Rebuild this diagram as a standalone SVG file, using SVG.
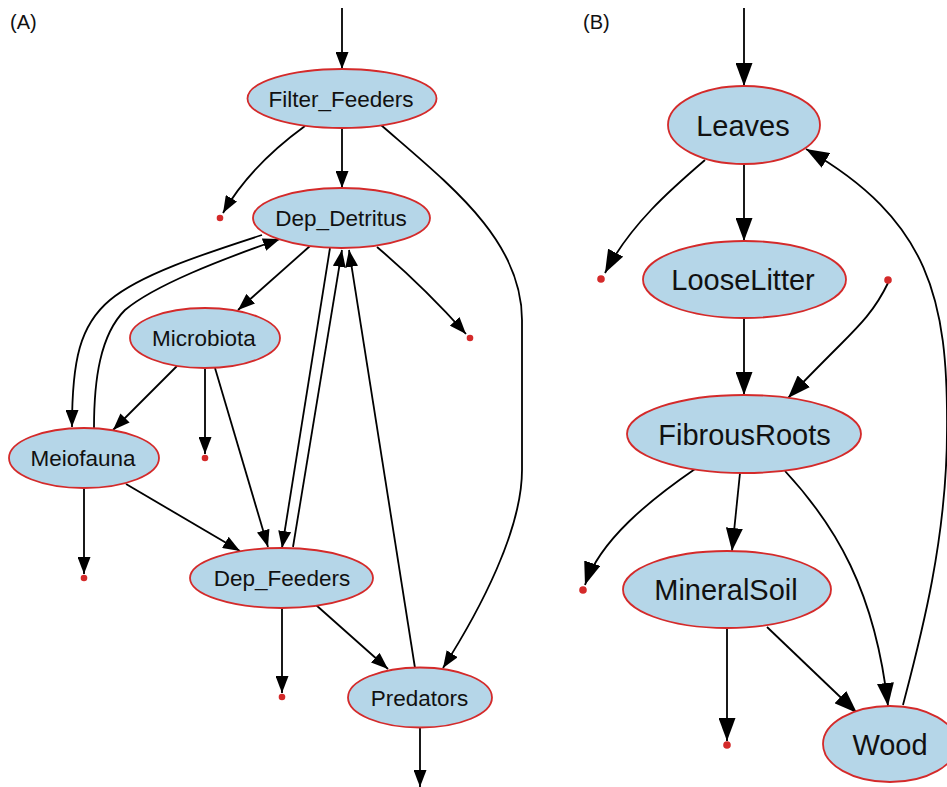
<svg xmlns="http://www.w3.org/2000/svg" width="947" height="787" viewBox="0 0 947 787">
<style>
.node ellipse{fill:#b5d6e8;stroke:#d42a2a;stroke-width:1.8}
.node text{font-family:"Liberation Sans",Arial,sans-serif;fill:#111;text-anchor:middle}
.a text{font-size:22.5px}
.b text{font-size:29px}
.edges path{fill:none;stroke:#000;stroke-width:1.8}
.ea path{marker-end:url(#arrA)}
.eb path{marker-end:url(#arrB)}
.sink{fill:#d42a2a}
.lbl{font-family:"Liberation Sans",Arial,sans-serif;font-size:20px;fill:#111}
</style>
<defs>
<marker id="arrA" markerUnits="userSpaceOnUse" markerWidth="17" markerHeight="13" refX="17" refY="6.5" orient="auto" viewBox="0 0 17 13">
<path d="M0,0 L17,6.5 L0,13 z" fill="#000"/>
</marker>
<marker id="arrB" markerUnits="userSpaceOnUse" markerWidth="23" markerHeight="17" refX="23" refY="8.5" orient="auto" viewBox="0 0 23 17">
<path d="M0,0 L23,8.5 L0,17 z" fill="#000"/>
</marker>
</defs>
<rect width="947" height="787" fill="#fff"/>
<text class="lbl" x="10" y="29">(A)</text>
<text class="lbl" x="583" y="29">(B)</text>

<g id="connectors" class="edges">
<g class="ea">
<path d="M342,8 L342,69"/>
<path d="M342,128 L342,188"/>
<path d="M305,126 C272,150 242,180 223,213"/>
<path d="M381,125 C450,185 522,240 522,320 L522,470 C522,530 480,610 443,668"/>
<path d="M377,247 C410,275 440,305 466,334"/>
<path d="M310,246 L238,310"/>
<path d="M262,235 C200,255 140,275 110,300 C80,325 72,360 72,427"/>
<path d="M94,428 C94,380 100,335 125,310 C155,285 220,260 280,239"/>
<path d="M330,248 L282,548"/>
<path d="M293,547 L342,250"/>
<path d="M415,668 L349,250"/>
<path d="M177,366 L113,430"/>
<path d="M205,368 L205,454"/>
<path d="M215,368 L268,547"/>
<path d="M126,484 L240,551"/>
<path d="M84,488 L84,574"/>
<path d="M282,608 L282,693"/>
<path d="M316,605 L388,669"/>
<path d="M420,727 L420,787"/>
</g>
<g class="eb">
<path d="M744,8 L744,86"/>
<path d="M744,164 L744,241"/>
<path d="M705,160 C670,190 630,225 605,273"/>
<path d="M888,283 C875,310 860,325 840,345 C820,365 805,380 788,398"/>
<path d="M744,318 L744,395"/>
<path d="M695,469 C650,500 600,540 585,585"/>
<path d="M740,473 L732,551"/>
<path d="M785,471 C835,525 875,590 888,706"/>
<path d="M727,628 L727,741"/>
<path d="M767,627 L857,713"/>
<path d="M903,705 C920,640 947,540 947,430 C948,300 930,220 806,149"/>
</g>
</g>

<g id="sinks">
<circle class="sink" cx="220" cy="218" r="3.3"/>
<circle class="sink" cx="470" cy="338" r="3.3"/>
<circle class="sink" cx="205" cy="458" r="3.3"/>
<circle class="sink" cx="84" cy="578" r="3.3"/>
<circle class="sink" cx="282" cy="697" r="3.3"/>
<circle class="sink" cx="601" cy="279" r="3.8"/>
<circle class="sink" cx="888" cy="280" r="3.8"/>
<circle class="sink" cx="583" cy="590" r="3.8"/>
<circle class="sink" cx="727" cy="745" r="3.8"/>
</g>

<g id="Filter_Feeders" class="node a"><ellipse cx="342" cy="98.5" rx="94.5" ry="29.5"/><text x="341" y="106.5">Filter_Feeders</text></g>
<g id="Dep_Detritus" class="node a"><ellipse cx="341.5" cy="218" rx="88.5" ry="30"/><text x="341" y="226">Dep_Detritus</text></g>
<g id="Microbiota" class="node a"><ellipse cx="205" cy="338" rx="75" ry="30"/><text x="204" y="346">Microbiota</text></g>
<g id="Meiofauna" class="node a"><ellipse cx="84" cy="458" rx="75" ry="30"/><text x="83" y="466">Meiofauna</text></g>
<g id="Dep_Feeders" class="node a"><ellipse cx="281.5" cy="578" rx="91.5" ry="30"/><text x="282" y="586">Dep_Feeders</text></g>
<g id="Predators" class="node a"><ellipse cx="420" cy="697.5" rx="72" ry="30"/><text x="419.5" y="705.5">Predators</text></g>

<g id="Leaves" class="node b"><ellipse cx="744" cy="125" rx="76" ry="39"/><text x="743" y="135.5">Leaves</text></g>
<g id="LooseLitter" class="node b"><ellipse cx="744.5" cy="279.5" rx="101.5" ry="38.5"/><text x="743" y="290">LooseLitter</text></g>
<g id="FibrousRoots" class="node b"><ellipse cx="744" cy="434" rx="117" ry="39"/><text x="744.5" y="444.5">FibrousRoots</text></g>
<g id="MineralSoil" class="node b"><ellipse cx="727" cy="589.5" rx="104" ry="38.5"/><text x="726" y="600">MineralSoil</text></g>
<g id="Wood" class="node b"><ellipse cx="890" cy="744" rx="67" ry="38"/><text x="890" y="754.5">Wood</text></g>
</svg>
